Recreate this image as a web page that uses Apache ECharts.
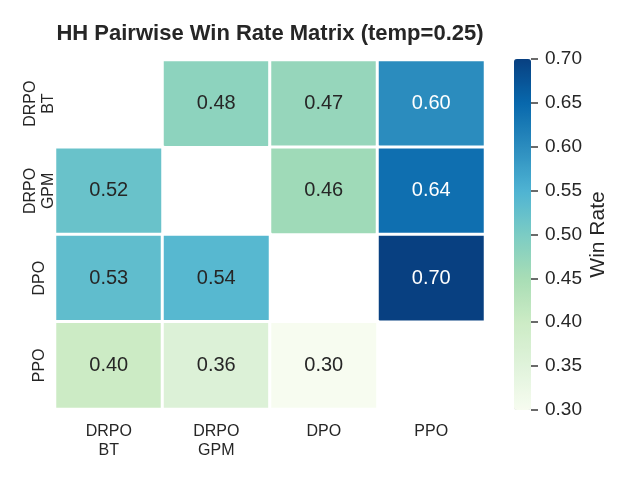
<!DOCTYPE html>
<html><head><meta charset="utf-8">
<script src="https://cdn.jsdelivr.net/npm/echarts@6/dist/echarts.min.js"></script>
<style>html,body{margin:0;padding:0;background:#fff}#c{width:640px;height:480px}</style>
</head><body><div id="c"></div>
<script>
const categories = ['DRPO\nBT', 'DRPO\nGPM', 'DPO', 'PPO'];
// rows (y) x cols (x); null on diagonal
const row0 = [null, 0.48, 0.47, 0.60];
const row1 = [0.52, null, 0.46, 0.64];
const row2 = [0.53, 0.54, null, 0.70];
const row3 = [0.40, 0.36, 0.30, null];
const rows = [row0, row1, row2, row3];
const cbarTicks = [0.30, 0.35, 0.40, 0.45, 0.50, 0.55, 0.60, 0.65, 0.70];
const gnbu = ['#f7fcf0','#e0f3db','#ccebc5','#a8ddb5','#7bccc4','#4eb3d3','#2b8cbe','#0868ac','#084081'];

const data = [];
rows.forEach((r, yi) => r.forEach((v, xi) => {
  if (v === null) return;
  data.push({value: [xi, yi, v], label: {color: v >= 0.58 ? '#ffffff' : '#262626'}});
}));

const txt = '#262626';
const font = 'Arial, "Liberation Sans", sans-serif';
const chart = echarts.init(document.getElementById('c'));
chart.setOption({
  backgroundColor: '#fff',
  animation: false,
  textStyle: {fontFamily: font},
  title: {
    text: 'HH Pairwise Win Rate Matrix (temp=0.25)',
    left: 265, top: 18, textAlign: 'center',
    textStyle: {fontSize: 22, fontWeight: 'bold', color: txt, fontFamily: font}
  },
  grid: [
    {left: 55, top: 60, width: 430, height: 349},
    {left: 514, top: 59, width: 17, height: 351}
  ],
  xAxis: [
    {type: 'category', data: categories, gridIndex: 0, position: 'bottom',
     axisLine: {show: false}, axisTick: {show: false}, splitLine: {show: false},
     axisLabel: {color: txt, fontSize: 16, margin: 13, lineHeight: 19, fontFamily: font}},
    {type: 'value', gridIndex: 1, show: false, min: 0, max: 1}
  ],
  yAxis: [
    {type: 'category', data: categories, gridIndex: 0, inverse: true,
     axisLine: {show: false}, axisTick: {show: false}, splitLine: {show: false},
     axisLabel: {color: txt, fontSize: 16, margin: 15, lineHeight: 18, rotate: 90,
                 verticalAlign: 'middle', align: 'center', fontFamily: font}},
    {type: 'value', gridIndex: 1, position: 'right', min: 0.3, max: 0.7, interval: 0.05,
     axisLine: {show: false, onZero: false}, splitLine: {show: false},
     axisTick: {show: true, length: 7, lineStyle: {color: '#3a3a3a', width: 1.5}},
     axisLabel: {color: txt, fontSize: 19, margin: 14, formatter: v => v.toFixed(2), fontFamily: font},
     name: 'Win Rate', nameLocation: 'middle', nameRotate: 90, nameGap: 57,
     nameTextStyle: {color: txt, fontSize: 21, fontFamily: font}}
  ],
  visualMap: {
    type: 'continuous', min: 0.3, max: 0.7, seriesIndex: 0,
    orient: 'vertical', left: 514, top: 59, itemWidth: 17, itemHeight: 351,
    padding: 0, calculable: false, text: ['', ''], showLabel: false,
    inRange: {color: gnbu}
  },
  series: [{
    type: 'heatmap', xAxisIndex: 0, yAxisIndex: 0, data: data,
    itemStyle: {borderColor: '#ffffff', borderWidth: 3},
    label: {show: true, fontSize: 20, formatter: p => p.value[2].toFixed(2), fontFamily: font},
    emphasis: {disabled: true}
  }]
});
</script></body></html>
